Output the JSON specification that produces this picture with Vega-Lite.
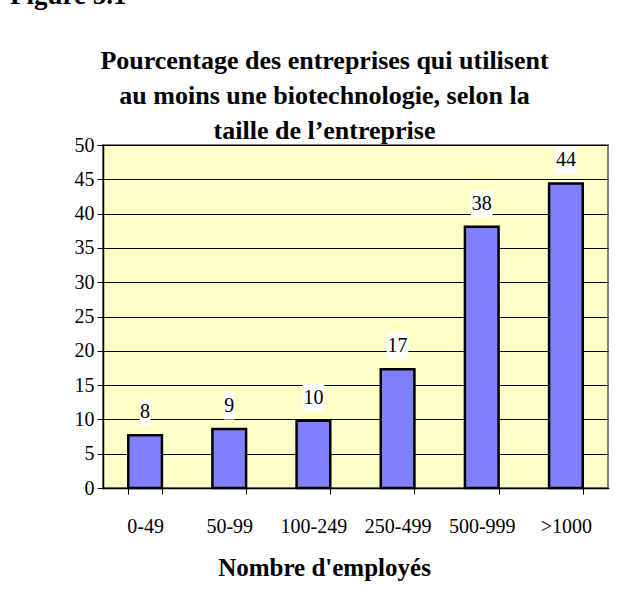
{
  "$schema": "https://vega.github.io/schema/vega-lite/v6.json",
  "autosize": {"type": "none"},
  "padding": {"left": 103, "top": 145, "right": 523, "bottom": 449},
  "background": "white",
  "title": {
    "text": "Figure 5.1",
    "anchor": "start",
    "font": "Liberation Serif",
    "fontSize": 27,
    "fontWeight": "bold",
    "color": "black",
    "offset": 0,
    "dx": -63,
    "dy": -37
  },
  "vconcat": [
    {
      "width": 505,
      "height": 343,
      "title": {
        "text": ["Pourcentage des entreprises qui utilisent", "au moins une biotechnologie, selon la", "taille de l\u2019entreprise"],
        "font": "Liberation Serif",
        "fontSize": 26,
        "fontWeight": "bold",
        "color": "black",
        "lineHeight": 35,
        "anchor": "middle",
        "dx": -31,
        "offset": -9
      },
      "data": {
        "values": [
          {"taille": "0-49", "pct": 7.7},
          {"taille": "50-99", "pct": 8.6},
          {"taille": "100-249", "pct": 9.8},
          {"taille": "250-499", "pct": 17.3},
          {"taille": "500-999", "pct": 38.1},
          {"taille": ">1000", "pct": 44.4}
        ]
      },
      "encoding": {
        "x": {
          "field": "taille",
          "type": "nominal",
          "sort": null,
          "scale": {"paddingInner": 0.6, "paddingOuter": 0.3},
          "axis": {
            "labelAngle": 0,
            "tickBand": "extent",
            "tickSize": 6,
            "tickColor": "black",
            "domainColor": "black",
            "domainWidth": 1.5,
            "labelPadding": 22,
            "labelFont": "Liberation Serif",
            "labelFontSize": 20,
            "labelColor": "black",
            "title": "Nombre d'employés",
            "titleFont": "Liberation Serif",
            "titleFontSize": 25,
            "titleFontWeight": "bold",
            "titleColor": "black",
            "titleX": 221,
            "titleY": 87,
            "titleBaseline": "alphabetic"
          }
        },
        "y": {
          "field": "pct",
          "type": "quantitative",
          "scale": {"domain": [0, 50], "nice": false},
          "axis": {
            "values": [0, 5, 10, 15, 20, 25, 30, 35, 40, 45, 50],
            "title": null,
            "grid": true,
            "gridColor": "black",
            "gridOpacity": 1,
            "gridWidth": 1,
            "tickSize": 6,
            "tickColor": "black",
            "domainColor": "black",
            "domainWidth": 1.5,
            "labelPadding": 3,
            "labelFont": "Liberation Serif",
            "labelFontSize": 20,
            "labelColor": "black"
          }
        }
      },
      "layer": [
        {
          "mark": {"type": "bar", "fill": "#8080FF", "stroke": "black", "strokeWidth": 2.5}
        },
        {
          "mark": {"type": "point", "filled": true, "fill": "white", "opacity": 1, "strokeWidth": 0, "size": 729, "yOffset": -23},
          "encoding": {
            "shape": {
              "condition": {"test": "datum.pct < 9.5", "value": "M-0.4,-1H0.4V1H-0.4Z"},
              "value": "M-0.8,-1H0.8V1H-0.8Z"
            }
          }
        },
        {
          "mark": {"type": "text", "font": "Liberation Serif", "fontSize": 20, "color": "black", "baseline": "middle", "dy": -23},
          "encoding": {
            "text": {"field": "pct", "type": "quantitative", "format": ".0f"}
          }
        }
      ]
    }
  ],
  "config": {
    "view": {"fill": "#FFFFC8", "stroke": "#808080", "strokeWidth": 2},
    "axis": {"domainCap": "square"}
  }
}
